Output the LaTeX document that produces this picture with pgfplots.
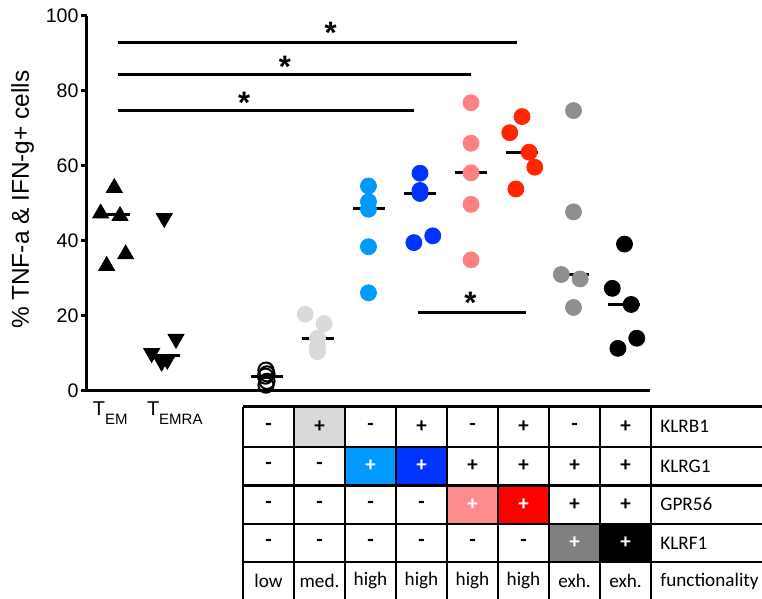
\documentclass[border=0pt]{standalone}
\usepackage{pgfplots}
\pgfplotsset{compat=1.18}
\usepackage{fontspec}
\setmainfont{Liberation Sans}
\newfontfamily\calfont{Carlito}
\definecolor{pLgray}{HTML}{D9D9D9}
\definecolor{pLblue}{HTML}{0099FF}
\definecolor{pBlue}{HTML}{0033FF}
\definecolor{pPink}{HTML}{FF8080}
\definecolor{pRed}{HTML}{FF2600}
\definecolor{pGray}{HTML}{8F8F8F}
\definecolor{tRed}{HTML}{FF0000}
\definecolor{tPink}{HTML}{FF8C8C}
\definecolor{tGray}{HTML}{808080}
\begin{document}
\begin{tikzpicture}
\begin{axis}[
  x=25.5pt, y=1.875pt,
  xmin=-3.53, xmax=7.51, ymin=0, ymax=100,
  axis lines*=left,
  axis line style={line width=1.5pt, black},
  xtick=\empty,
  ytick={0,20,40,60,80,100},
  tick align=outside,
  major tick length=3pt,
  every tick/.style={black, line width=1.5pt},
  yticklabel style={font=\fontsize{9.8}{11}\selectfont, inner sep=1pt},
  /pgf/number format/assume math mode=true,
  clip=false,
]
\coordinate (O) at (axis cs:0,0);
% T_EM
\addplot[only marks, mark=triangle*, mark size=4.6pt, black] coordinates {(-2.994,54.1) (-3.261,47.3) (-2.882,46.6) (-2.771,36.4) (-3.143,33.3)};
% T_EMRA
\addplot[only marks, mark=triangle*, mark options={rotate=180}, mark size=4.6pt, black] coordinates {(-2.014,46.0) (-1.784,13.8) (-2.261,10.0) (-2.065,7.7) (-1.955,8.2)};
% low (open)
\addplot[only marks, mark=o, mark size=3.8pt, black, mark options={line width=1pt}] coordinates {(-0.02,5.5) (0.0,4.5) (-0.03,3.9) (0.0,2.5) (-0.02,1.5)};
% med (light gray)
\addplot[only marks, mark=*, mark size=4pt, pLgray] coordinates {(0.75,20.4) (1.12,17.9) (0.99,14.0) (0.99,11.7) (0.99,10.4)};
% light blue
\addplot[only marks, mark=*, mark size=4pt, pLblue] coordinates {(1.99,54.6) (1.99,50.4) (1.99,48.4) (1.99,38.4) (1.99,26.1)};
% blue
\addplot[only marks, mark=*, mark size=4pt, pBlue] coordinates {(3.0,58.0) (3.0,53.4) (3.0,52.6) (3.25,41.3) (2.88,39.5)};
% pink
\addplot[only marks, mark=*, mark size=4pt, pPink] coordinates {(4.0,76.8) (4.0,66.0) (4.0,58.1) (4.0,49.7) (4.0,34.9)};
% red
\addplot[only marks, mark=*, mark size=4pt, pRed] coordinates {(5.0,73.1) (4.76,68.8) (5.14,63.6) (5.25,59.6) (4.88,53.8)};
% gray
\addplot[only marks, mark=*, mark size=4pt, pGray] coordinates {(6.01,74.7) (6.01,47.7) (5.77,31.0) (6.14,29.8) (6.01,22.2)};
% black
\addplot[only marks, mark=*, mark size=4pt, black] coordinates {(7.01,39.1) (6.77,27.3) (7.14,23.0) (7.25,14.0) (6.88,11.3)};
% medians
\addplot[black, line width=1.5pt, no markers] coordinates {(-3.18,46.9) (-2.68,46.9)};
\addplot[black, line width=1.5pt, no markers] coordinates {(-2.2,9.5) (-1.7,9.5)};
\addplot[black, line width=1.5pt, no markers] coordinates {(-0.32,3.9) (0.32,3.9)};
\addplot[black, line width=1.5pt, no markers] coordinates {(0.69,13.8) (1.31,13.8)};
\addplot[black, line width=1.5pt, no markers] coordinates {(1.69,48.5) (2.31,48.5)};
\addplot[black, line width=1.5pt, no markers] coordinates {(2.69,52.6) (3.31,52.6)};
\addplot[black, line width=1.5pt, no markers] coordinates {(3.69,58.2) (4.31,58.2)};
\addplot[black, line width=1.5pt, no markers] coordinates {(4.69,63.6) (5.31,63.6)};
\addplot[black, line width=1.5pt, no markers] coordinates {(5.69,31.0) (6.31,31.0)};
\addplot[black, line width=1.5pt, no markers] coordinates {(6.69,23.0) (7.31,23.0)};
% significance bars
\addplot[black, line width=1.5pt, no markers] coordinates {(-2.92,92.9) (4.9,92.9)};
\addplot[black, line width=1.5pt, no markers] coordinates {(-2.92,84.45) (4.0,84.45)};
\addplot[black, line width=1.5pt, no markers] coordinates {(-2.92,74.6) (2.88,74.6)};
\addplot[black, line width=1.5pt, no markers] coordinates {(2.96,20.8) (5.08,20.8)};
% stars
\node[font=\bfseries\fontsize{15.5}{15}\selectfont, inner sep=0, anchor=base] at (axis cs:1.25,92.7) {*};
\node[font=\bfseries\fontsize{15.5}{15}\selectfont, inner sep=0, anchor=base] at (axis cs:0.35,83.4) {*};
\node[font=\bfseries\fontsize{15.5}{15}\selectfont, inner sep=0, anchor=base] at (axis cs:-0.45,74.0) {*};
\node[font=\bfseries\fontsize{15.5}{15}\selectfont, inner sep=0, anchor=base] at (axis cs:3.99,20.7) {*};
% y label
\node[rotate=90, font=\fontsize{12.2}{14}\selectfont] at (axis cs:-4.79,50.9) {\% TNF-a \& IFN-g+ cells};
% x category labels
\node[anchor=base west, inner sep=0, font=\fontsize{10}{11}\selectfont] at (axis cs:-3.42,-6.6) {T\raisebox{-4.5pt}{\fontsize{7.5}{8}\selectfont EM}};
\node[anchor=base west, inner sep=0, font=\fontsize{10}{11}\selectfont] at (axis cs:-2.36,-6.6) {T\raisebox{-4.5pt}{\fontsize{7.5}{8}\selectfont EMRA}};
\end{axis}
\begin{scope}[shift={(O)}, x=25.5pt, y=1.875pt]
  \fill[pLgray] (0.53,-14.99) rectangle (1.53,-4.21);
  \fill[pLblue] (1.53,-25.25) rectangle (2.53,-14.99);
  \fill[pBlue] (2.53,-25.25) rectangle (3.53,-14.99);
  \fill[tPink] (3.53,-35.47) rectangle (4.53,-25.25);
  \fill[tRed] (4.53,-35.47) rectangle (5.53,-25.25);
  \fill[tGray] (5.53,-45.71) rectangle (6.53,-35.47);
  \fill[black] (6.53,-45.71) rectangle (7.53,-35.47);
  \foreach \yy in {-4.21,-14.99,-25.25,-35.47,-45.71}
    \draw[line width=1.1pt] (-0.47,\yy) -- (9.8,\yy);
  \foreach \xx in {-0.47,0.53,1.53,2.53,3.53,4.53,5.53,6.53,7.53}
    \draw[line width=1.1pt] (\xx,-4.21) -- (\xx,-58);
  \begin{scope}[every node/.style={font=\calfont\fontsize{9.6}{10}\selectfont, inner sep=0}]
  \begin{scope}[every node/.append style={font=\calfont\bfseries\fontsize{10.5}{11}\selectfont}]
  \foreach \s/\c [count=\j from 0] in {-/black,+/black,-/black,+/black,-/black,+/black,-/black,+/black}
    \node[text=\c] at (\j+0.03,-9.6) {\s};
  \foreach \s/\c [count=\j from 0] in {-/black,-/black,+/white,+/white,+/black,+/black,+/black,+/black}
    \node[text=\c] at (\j+0.03,-20.12) {\s};
  \foreach \s/\c [count=\j from 0] in {-/black,-/black,-/black,-/black,+/white,+/white,+/black,+/black}
    \node[text=\c] at (\j+0.03,-30.36) {\s};
  \foreach \s/\c [count=\j from 0] in {-/black,-/black,-/black,-/black,-/black,-/black,+/white,+/white}
    \node[text=\c] at (\j+0.03,-40.59) {\s};
  \end{scope}
  \foreach \s [count=\j from 0] in {low,med.,high,high,high,high,exh.,exh.}
    \node at (\j+0.03,-50.71) {\s};
  \node[anchor=west] at (7.706,-9.6) {KLRB1};
  \node[anchor=west] at (7.706,-20.12) {KLRG1};
  \node[anchor=west] at (7.706,-30.36) {GPR56};
  \node[anchor=west] at (7.706,-40.59) {KLRF1};
  \node[anchor=west] at (7.706,-50.71) {functionality};
  \end{scope}
  \pgfresetboundingbox
  \path[use as bounding box] (-5.235,-55.52) rectangle (9.706,104.19);
\end{scope}
\end{tikzpicture}
\end{document}
